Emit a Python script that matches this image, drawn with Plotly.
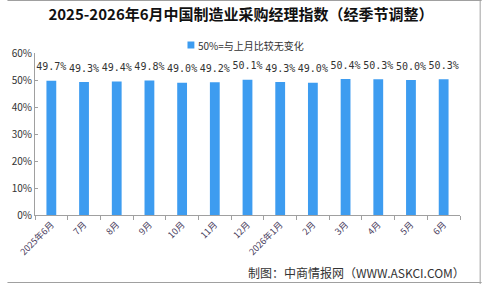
import plotly.graph_objects as go

categories = ["2025年6月", "7月", "8月", "9月", "10月", "11月", "12月",
              "2026年1月", "2月", "3月", "4月", "5月", "6月"]
values = [49.7, 49.3, 49.4, 49.8, 49.0, 49.2, 50.1, 49.3, 49.0, 50.4, 50.3, 50.0, 50.3]
labels = [f"{v:.1f}%" for v in values]
y_ticks = [0, 10, 20, 30, 40, 50, 60]
y_tick_text = [f"{t}%" for t in y_ticks]
legend_text = "50%=与上月比较无变化"

W, H = 482, 284
L, R, T, B = 28, 22, 53, 69
pw, ph = W - L - R, H - T - B
BAR_COLOR = "#3d9cf0"


def px_x(p):
    return (p - L) / pw


def px_y(p):
    return (H - B - p) / ph


fig = go.Figure()
fig.add_trace(go.Bar(
    x=categories, y=values, name=legend_text,
    marker=dict(color=BAR_COLOR, line=dict(width=0)),
    width=0.3, showlegend=False, hoverinfo="skip",
))
fig.add_trace(go.Scatter(
    x=categories, y=values, mode="markers+text", text=labels,
    textposition="top center", cliponaxis=False,
    marker=dict(size=11, opacity=0, color=BAR_COLOR),
    textfont=dict(family="DejaVu Sans Mono, monospace", size=10, color="#333333"),
    showlegend=False,
))

fig.update_layout(
    width=W, height=H,
    margin=dict(l=L, r=R, t=T, b=B),
    paper_bgcolor="white", plot_bgcolor="white",
    font=dict(family="Noto Sans CJK SC, sans-serif", color="#333333"),
    title=dict(text="<b>2025-2026年6月中国制造业采购经理指数（经季节调整）</b>",
               x=0.5, xanchor="center", y=1 - 15 / H, yanchor="middle",
               font=dict(family="Noto Sans CJK SC, sans-serif", size=15, color="#111111")),
    xaxis=dict(type="category", range=[-0.5, len(categories) - 0.5], autorange=False,
               tickangle=-45, showline=True, linecolor="#a0a0a0",
               linewidth=1, ticks="outside", tickson="boundaries", ticklen=4,
               tickcolor="#a0a0a0", tickfont=dict(size=9, color="#4a4060"),
               showgrid=False),
    yaxis=dict(range=[0, 60], tickvals=y_ticks, ticktext=y_tick_text,
               showline=True, linecolor="#a0a0a0", linewidth=1, ticks="inside",
               ticklen=3, tickcolor="#a0a0a0", showgrid=False, zeroline=False,
               tickfont=dict(size=10, color="#333333")),
    annotations=[
        dict(text="制图：中商情报网（WWW.ASKCI.COM）", xref="paper", yref="paper",
             x=px_x(242), y=px_y(272), xanchor="left", yanchor="middle", showarrow=False,
             font=dict(size=12, color="#333333")),
        dict(text=legend_text, xref="paper", yref="paper",
             x=px_x(192), y=px_y(45), xanchor="left", yanchor="middle", showarrow=False,
             font=dict(size=10, color="#333333")),
    ],
)

# manual legend marker
fig.add_shape(type="rect", xref="paper", yref="paper",
              x0=px_x(183), x1=px_x(190), y0=px_y(48.5), y1=px_y(41.5),
              line=dict(width=0), fillcolor=BAR_COLOR)

# outer frame (top, bottom, right)
frame = dict(color="#a0a0a0", width=1)
fig.add_shape(type="line", xref="paper", yref="paper",
              x0=px_x(0), x1=px_x(W), y0=px_y(0.5), y1=px_y(0.5), line=frame)
fig.add_shape(type="line", xref="paper", yref="paper",
              x0=px_x(0), x1=px_x(W), y0=px_y(H - 1.5), y1=px_y(H - 1.5), line=frame)
fig.add_shape(type="line", xref="paper", yref="paper",
              x0=px_x(W - 1.5), x1=px_x(W - 1.5), y0=px_y(0), y1=px_y(H), line=frame)

fig.write_html("out.html")
